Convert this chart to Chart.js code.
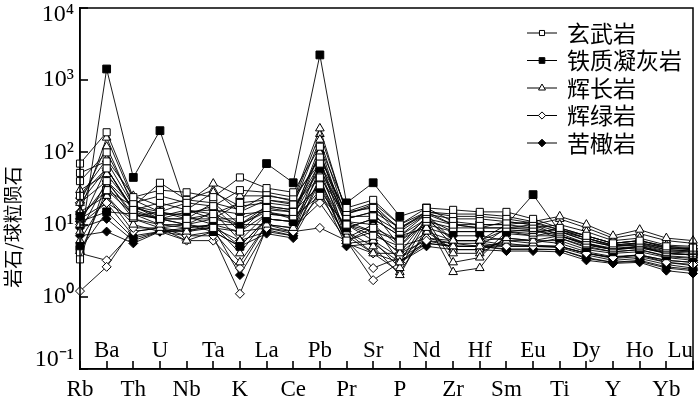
<!DOCTYPE html>
<html><head><meta charset="utf-8">
<style>html,body{margin:0;padding:0;background:#fff;} canvas{display:block;}</style>
<script src="https://cdn.jsdelivr.net/npm/chart.js@4.4.1/dist/chart.umd.min.js"></script>
</head><body>
<canvas id="c" width="700" height="399"></canvas>
<script>
// Categories (elements), order along the x axis
const categories = ['Rb','Ba','Th','U','Nb','Ta','K','La','Ce','Pb','Pr','Sr','P','Nd','Zr','Hf','Sm','Eu','Ti','Dy','Y','Ho','Yb','Lu'];
const groupNames = ['玄武岩','铁质凝灰岩','辉长岩','辉绿岩','苦橄岩'];
const yTitle = '岩石/球粒陨石';
const yTickValues = [0.1, 1, 10, 100, 1000, 10000];
const yTickLabels = ['10⁻¹','10⁰','10¹','10²','10³','10⁴'];

// 玄武岩 (open square)
const basalt = [
  [70, 190, 24, 30, 28, 24, 45, 32, 28, 120, 17, 22, 10, 17, 16, 15, 15, 12, 9, 7, 5.5, 6, 5, 4.8],
  [40, 100, 20, 25, 20, 18, 30, 28, 24, 70, 15, 17, 9, 15, 14, 14, 13, 11, 8.5, 6.5, 5.2, 5.6, 4.7, 4.5],
  [25, 60, 16, 20, 16, 14, 20, 22, 19, 45, 13, 13, 8, 14, 12, 12, 11, 10, 8, 6, 5, 5.3, 4.5, 4.3],
  [3.3, 40, 13, 15, 12, 12, 12, 17, 15, 35, 6, 9, 6, 12, 10, 10, 10, 9, 7.5, 5.5, 4.7, 5, 4.2, 4],
  [52, 75, 18, 38, 22, 20, 16, 26, 21, 85, 14, 19, 8.5, 15, 13, 13, 12, 10.5, 8.5, 6.5, 5.2, 5.6, 4.8, 4.6],
  [4, 30, 14, 12, 10, 9, 8, 14, 13, 25, 10, 7, 5, 11, 9, 9, 9, 8.5, 7, 5.3, 4.5, 4.8, 4, 3.8]
];
// 铁质凝灰岩 (filled square)
const ferricTuff = [
  [5, 1430, 45, 200, 16, 12, 20, 70, 38, 2240, 20, 38, 13, 17, 11, 10, 10, 26, 8, 6, 5, 5.2, 4.3, 4.2],
  [13, 30, 18, 15, 13, 10, 10, 18, 16, 60, 12, 15, 9, 14, 10, 9, 9, 10, 7, 5.2, 4.5, 4.8, 4, 3.8],
  [4.5, 15, 14, 12, 10, 8, 5, 12, 11, 30, 9, 12, 7, 12, 8, 8, 8, 8.5, 6.5, 4.8, 4.2, 4.5, 3.7, 3.5]
];
// 辉长岩 (open triangle)
const gabbro = [
  [15, 160, 22, 15, 20, 37, 25, 25, 22, 215, 14, 18, 7, 14, 6, 6, 10, 11, 13, 10, 7, 8.5, 6.5, 6],
  [20, 120, 18, 13, 16, 28, 18, 20, 18, 150, 12, 15, 5, 13, 5, 5, 9, 9, 10, 8, 6, 6.5, 5.2, 5],
  [10, 60, 15, 12, 12, 20, 10, 16, 15, 100, 11, 10, 3, 12, 3, 3.5, 8, 7.5, 9, 7, 5.5, 6, 5, 4.6],
  [8, 40, 14, 10, 10, 15, 6, 14, 13, 60, 10, 6, 2.5, 11, 2.2, 2.5, 7.5, 7, 8, 6.5, 5, 5.5, 4.5, 4.3],
  [25, 80, 25, 18, 22, 30, 15, 22, 20, 180, 15, 20, 10, 15, 10, 9, 11, 10, 12, 9, 6.5, 7.5, 6, 5.5],
  [12, 35, 12, 9, 8, 10, 4, 12, 11, 40, 8, 5, 2, 9, 4, 4, 6.5, 6, 7, 5.5, 4.5, 5, 4, 3.8],
  [30, 50, 17, 14, 14, 18, 8, 18, 16, 70, 11, 8, 4, 12, 6, 6, 8.5, 8, 8.5, 7, 5.5, 6, 4.8, 4.5],
  [6, 25, 10, 8, 6, 8, 3, 10, 9, 25, 7, 4, 2.2, 8, 4.5, 4.5, 6, 5.5, 6.5, 5, 4.2, 4.5, 3.6, 3.4]
];
// 辉绿岩 (open diamond)
const diabase = [
  [1.2, 2.6, 9, 9, 7, 7, 1.1, 9, 8, 9, 6, 1.7, 3, 6, 5, 5, 5, 5, 5, 4, 3.5, 3.8, 3, 2.8],
  [4, 3.2, 8, 9, 6, 6, 2.5, 10, 9, 20, 6, 2.5, 3.5, 6.5, 5.5, 5, 5.5, 5, 5, 4, 3.5, 3.8, 3.2, 3],
  [10, 20, 12, 10, 9, 10, 5, 12, 11, 50, 8, 4, 4, 8, 6, 6, 6.5, 6, 6, 4.5, 4, 4.2, 3.5, 3.2],
  [20, 60, 16, 12, 12, 14, 10, 15, 13, 120, 10, 8, 6, 10, 8, 8, 8, 7, 7, 5.5, 4.5, 5, 4, 3.8]
];
// 苦橄岩 (filled diamond)
const picrite = [
  [9, 12, 6, 8, 8, 9, 6, 8, 7, 40, 5.5, 6, 3.5, 5.5, 5, 5, 4.5, 4.5, 4.5, 3.5, 3, 3.2, 2.6, 2.4],
  [7, 8, 5.5, 8, 7, 8, 5, 7.5, 6.5, 30, 5, 5.5, 3, 5, 4.5, 4.5, 4.3, 4.3, 4.2, 3.2, 2.9, 3, 2.3, 2.1],
  [12, 20, 7, 8, 9, 10, 8, 9, 7.5, 60, 6, 8, 4, 6, 5.5, 5.5, 5, 5, 4.8, 3.8, 3.2, 3.4, 2.8, 2.5],
  [15, 25, 8, 9, 10, 12, 10, 10, 8, 80, 6.5, 10, 5, 6.5, 6, 6, 5.2, 5.2, 5, 4, 3.4, 3.6, 3, 2.7],
  [20, 40, 18, 12, 15, 16, 14, 15, 12, 100, 9, 12, 7, 9, 7, 7, 6, 6, 5.5, 4.2, 3.6, 3.8, 3.2, 3],
  [11, 15, 6.5, 8, 8.5, 9, 2, 8.5, 7, 45, 5.5, 4, 3, 5.5, 5, 5, 4.6, 4.6, 4.5, 3.4, 3, 3.1, 2.5, 2.3]
];

const groups = [
  {name: groupNames[0], samples: basalt,     style: 'rect',     fill: '#fff', r: 5,   lr: 3.6},
  {name: groupNames[1], samples: ferricTuff, style: 'rect',     fill: '#000', r: 5.5, lr: 4},
  {name: groupNames[2], samples: gabbro,     style: 'triangle', fill: '#fff', r: 5,   lr: 4},
  {name: groupNames[3], samples: diabase,    style: 'rectRot',  fill: '#fff', r: 4.5, lr: 3.6},
  {name: groupNames[4], samples: picrite,    style: 'rectRot',  fill: '#000', r: 4.5, lr: 3.8}
];

const datasets = [];
groups.forEach(g => g.samples.forEach(s => datasets.push({
  label: g.name, data: s, borderColor: '#000', borderWidth: 0.9,
  pointStyle: g.style, pointRadius: g.r, pointHoverRadius: g.r,
  pointBackgroundColor: g.fill, pointBorderColor: '#000', pointBorderWidth: 1,
  tension: 0, fill: false, clip: false
})));

const SERIF = "'Liberation Serif', 'Times New Roman', serif";
const CJK = "'Noto Sans CJK SC', sans-serif";
const lastY = yTickValues.length - 1;

const decorPlugin = {
  id: 'decor',
  afterDraw(chart) {
    const ctx = chart.ctx, a = chart.chartArea;
    const xs = chart.scales.x, ys = chart.scales.y;
    ctx.save();
    // frame
    ctx.strokeStyle = '#000'; ctx.lineWidth = 1.5;
    ctx.strokeRect(a.left, a.top, a.right - a.left, a.bottom - a.top);
    // inward tick marks
    ctx.lineWidth = 1.6;
    ctx.strokeStyle = '#000';
    categories.forEach((c, i) => {
      const px = Math.round(xs.getPixelForValue(i));
      ctx.beginPath();
      ctx.moveTo(px, a.bottom); ctx.lineTo(px, a.bottom - 8);
      ctx.stroke();
    });
    yTickValues.forEach(v => {
      const py = Math.round(ys.getPixelForValue(v));
      ctx.beginPath();
      ctx.moveTo(a.left, py); ctx.lineTo(a.left + 8, py);
      ctx.stroke();
    });
    // y title
    ctx.save();
    ctx.translate(13, 227);
    ctx.rotate(-Math.PI / 2);
    ctx.font = '19px ' + CJK;
    ctx.fillStyle = '#000'; ctx.textAlign = 'center'; ctx.textBaseline = 'middle';
    ctx.fillText(yTitle, 0, 0);
    ctx.restore();
    // legend
    const x0 = a.right - 166;
    groups.forEach((g, i) => {
      const y = a.top + 25 + i * 27.5;
      ctx.strokeStyle = '#000'; ctx.lineWidth = 1;
      ctx.beginPath(); ctx.moveTo(x0, y); ctx.lineTo(x0 + 30, y); ctx.stroke();
      ctx.fillStyle = g.fill;
      Chart.helpers.drawPoint(ctx, {pointStyle: g.style, radius: g.lr, borderWidth: 1, rotation: 0}, x0 + 15, y);
      ctx.fillStyle = '#000';
      ctx.font = '23px ' + CJK;
      ctx.textAlign = 'left'; ctx.textBaseline = 'middle';
      ctx.fillText(g.name, x0 + 40, y);
    });
    ctx.restore();
  }
};

const noPad = s => { s.paddingLeft = 0; s.paddingRight = 0; s.paddingTop = 0; s.paddingBottom = 0; };

new Chart(document.getElementById('c'), {
  type: 'line',
  data: {labels: categories, datasets},
  plugins: [decorPlugin],
  options: {
    responsive: false, animation: false, devicePixelRatio: 1, events: [],
    layout: {padding: {top: 8, right: 7, left: 0, bottom: 0}},
    plugins: {legend: {display: false}, tooltip: {enabled: false}},
    scales: {
      x: {
        type: 'category', position: 'bottom', weight: 1, offset: false,
        grid: {display: false, drawTicks: false},
        border: {display: true, color: '#000', width: 1.5},
        ticks: {autoSkip: false, maxRotation: 0, minRotation: 0, padding: 7, color: '#000',
          font: {family: SERIF, size: 23},
          callback: (v, i) => (i % 2 === 0 ? categories[i] : '')},
        afterFit: s => { s.height = 30; noPad(s); }
      },
      x2: {
        type: 'category', position: 'bottom', weight: 0, offset: false, labels: categories,
        min: 0, max: categories.length - 1,
        grid: {display: false, drawTicks: false}, border: {display: false},
        ticks: {autoSkip: false, maxRotation: 0, minRotation: 0, mirror: true, padding: 4, align: 'inner', color: '#000',
          font: {family: SERIF, size: 23},
          callback: (v, i) => (i % 2 === 1 ? categories[i] : '')},
        afterFit: s => { s.height = 0; noPad(s); }
      },
      y: {
        type: 'logarithmic', position: 'left', min: 0.1, max: 10000,
        afterBuildTicks: s => { s.ticks = yTickValues.map(v => ({value: v})); },
        grid: {display: false, drawTicks: false},
        border: {display: true, color: '#000', width: 1.5},
        ticks: {padding: 6, color: '#000',
          font: c => ({family: SERIF, size: 24, lineHeight: c.index === lastY ? 0.6 : (c.index === 0 ? 0.8 : 1.2)}),
          callback: (v, i) => {
            const k = yTickValues.findIndex(t => Math.abs(Math.log10(t) - Math.log10(v)) < 1e-6);
            const lab = k >= 0 ? yTickLabels[k] : '';
            if (k === lastY) return ['', lab];
            if (k === 0) return [lab, ''];
            return lab;
          }},
        afterFit: s => { s.width = 80; noPad(s); }
      }
    }
  }
});
</script>
</body></html>
